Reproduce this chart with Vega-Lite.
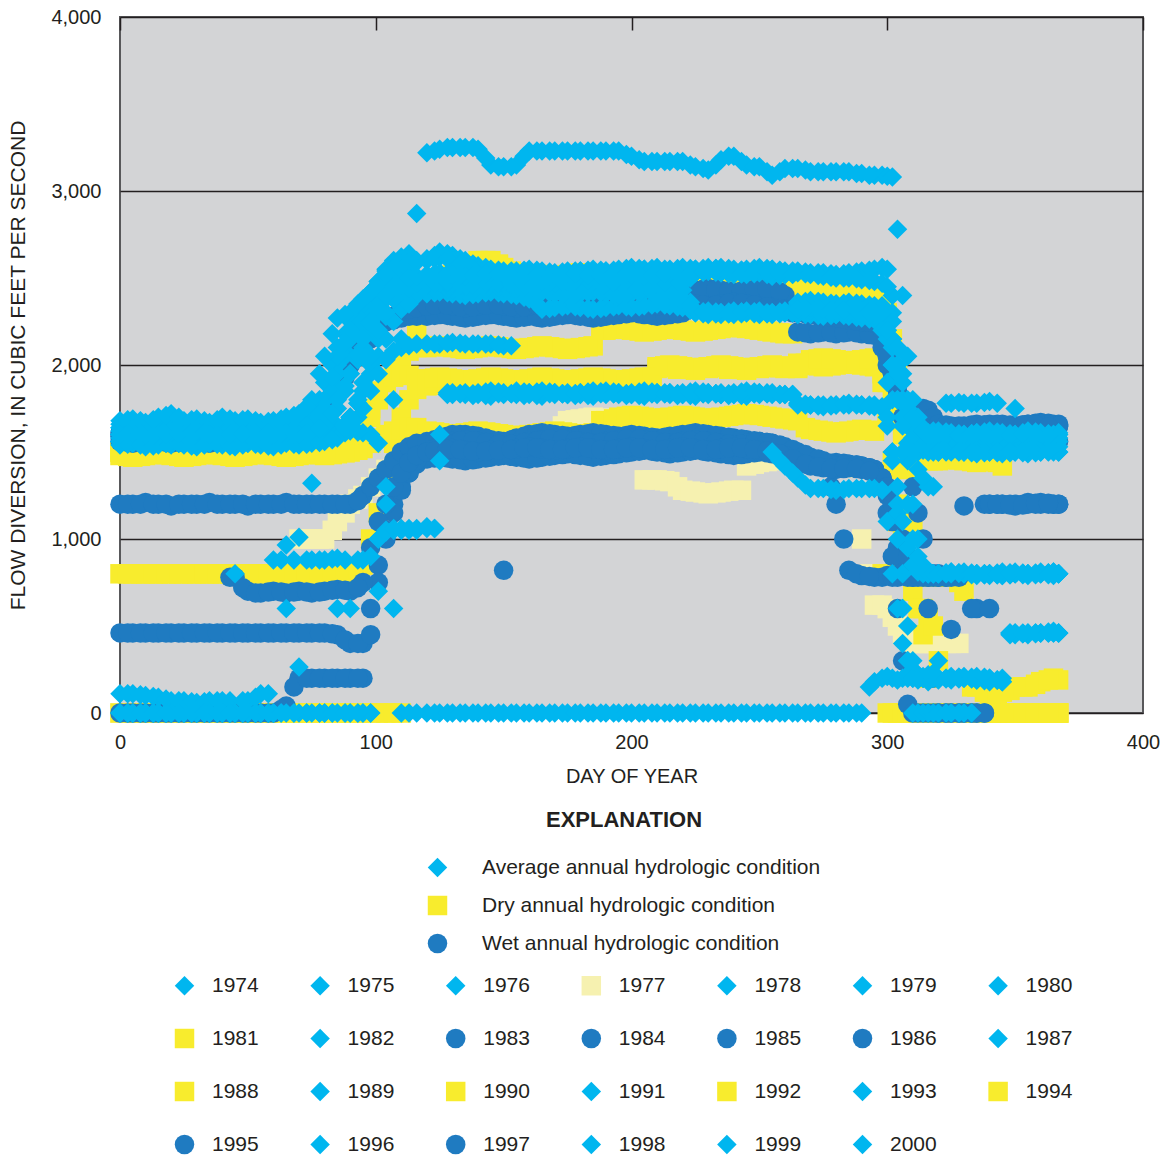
{
  "$schema": "https://vega.github.io/schema/vega-lite/v6.json",
  "width": 1023,
  "height": 696,
  "autosize": "none",
  "padding": {"left": 120, "top": 17, "right": 26, "bottom": 445},
  "background": "#ffffff",
  "config": {
    "font": "Liberation Sans",
    "view": {"fill": "#d3d4d6", "stroke": "#58585a", "strokeWidth": 2},
    "axis": {"labelColor": "#231f20", "titleColor": "#231f20", "labelFontSize": 20, "titleFontSize": 20, "titleFontWeight": "normal"},
    "legend": {"labelColor": "#231f20", "titleColor": "#231f20"}
  },
  "layer": [
    {
      "data": {
        "values": "year,c,0,5,10,15,20,25,30,35,40,45,50,55,60,65,70,75,80,85,90,95,98,101,104,107,110,113,116,120,125,130,135,140,145,150,155,160,165,170,175,180,185,190,195,200,205,210,215,220,225,230,235,240,245,250,255,260,265,270,275,280,285,290,295,298,300,302,304,306,308,310,312,314,316,318,320,325,330,335,340,345,350,355,360,365,367,3,8,13,18,23,28,33,38,43,48,53,58,63,68,73,78,83,88,93,123,128,133,138,143,148,153,158,163,168,173,178,183,188,193,198,203,208,213,218,223,228,233,238,243,248,253,258,263,268,273,278,283,288,293,323,328,333,338,343,348,353,358,363\n1974,A,1640,1650,1630,1660,1640,1650,1630,1640,1650,1640,1630,1650,1640,1660,1650,1680,1800,2000,2150,2300,2400,2480,2550,2600,2620,2640,2870,3220,3240,3250,3250,3240,3150,3140,3150,3230,3230,3230,3230,3230,3230,3230,3230,3200,3170,3170,3170,3170,3140,3120,3180,3200,3150,3140,3090,3130,3130,3110,3110,3110,3110,3100,3090,3090,3085,3080,2780,2400,2050,1800,1700,1640,1600,1590,1580,1590,1570,1580,1590,1570,1580,1580,1570,1580,1580,1645,1640,1650,1650,1645,1640,1635,1645,1645,1635,1640,1645,1650,1655,1665,1740,1900,2080,2240,3230,3250,3250,3250,3190,3140,3140,3200,3230,3230,3230,3230,3230,3230,3230,3210,3180,3170,3170,3170,3150,3130,3150,3200,3170,3140,3110,3110,3130,3120,3110,3110,3110,3100,3090,1580,1580,1580,1580,1580,1580,1580,1580,1580\n1975,A,1660,1670,1650,1680,1700,1660,1670,1650,1680,1660,1670,1650,1660,1670,1680,1700,1900,2100,2250,2350,2420,2480,2540,2560,2580,2590,2600,2610,2650,2630,2600,2570,2550,2540,2540,2550,2540,2530,2540,2540,2530,2540,2550,2560,2550,2540,2550,2560,2550,2540,2530,2540,2540,2540,2520,2530,2540,2530,2530,2520,2530,2540,2550,2560,2550,2400,2100,1900,1750,1650,1600,1580,1570,1560,1560,1570,1560,1580,1560,1570,1560,1560,1580,1570,1560,1665,1660,1665,1690,1680,1665,1660,1665,1670,1665,1660,1655,1665,1675,1690,1800,2000,2180,2300,2630,2640,2610,2580,2560,2545,2540,2545,2545,2535,2535,2540,2535,2535,2545,2555,2555,2545,2545,2555,2555,2545,2535,2535,2540,2540,2530,2525,2535,2535,2530,2525,2525,2535,2545,1565,1565,1570,1570,1565,1565,1560,1570,1575\n1976,A,1600,1610,1590,1620,1600,1610,1590,1600,1620,1600,1610,1590,1600,1610,1600,1610,1620,1750,1950,2100,2200,2300,2380,2430,2460,2480,2500,2500,2520,2510,2490,2480,2470,2480,2490,2480,2470,2480,2490,2480,2470,2480,2490,2500,2510,2490,2480,2500,2540,2550,2540,2530,2540,2550,2540,2530,2350,2350,2340,2350,2340,2330,2320,2330,2300,2150,1950,1700,1450,1200,1000,850,800,800,800,800,810,800,800,790,800,800,810,800,800,1605,1600,1605,1610,1605,1600,1595,1610,1610,1605,1600,1595,1605,1605,1605,1615,1680,1850,2030,2510,2515,2500,2485,2475,2475,2485,2485,2475,2475,2485,2485,2475,2475,2485,2495,2505,2500,2485,2490,2520,2545,2545,2535,2535,2545,2545,2535,2530,2350,2345,2345,2345,2335,2325,800,805,805,800,795,795,800,805,805\n1977,D,0,0,0,0,0,0,0,0,0,0,0,0,0,0,1000,1000,1000,1100,1200,1250,1300,1350,1400,1420,1450,1460,1470,1480,1490,1500,1500,1510,1500,1520,1530,1540,1560,1600,1680,1690,1700,1690,1680,1690,1340,1340,1330,1280,1270,1260,1270,1280,1420,1440,1450,1460,1450,1440,1430,1420,1410,1000,620,620,600,550,500,450,420,400,400,400,400,400,400,400,0,0,0,0,0,0,0,0,0,0,0,0,0,0,0,0,0,0,0,0,0,0,0,1000,1000,1050,1150,1230,1485,1495,1500,1505,1505,1510,1525,1535,1550,1580,1650,1685,1695,1695,1685,1685,1690,1340,1335,1300,1275,1265,1265,1275,1280,1430,1445,1455,1455,1445,1435,1425,1415,1410,800,400,400,0,0,0,0,0,0,0\n1978,A,1620,1630,1610,1640,1620,1600,1630,1620,1610,1630,1620,1640,1630,1620,1640,1650,1750,1950,2150,2250,2300,2350,2400,2420,2440,2450,2460,2470,2460,2450,2440,2440,2450,2460,2450,2440,2450,2460,2450,2440,2450,2460,2460,2450,2440,2450,2460,2470,2530,2540,2550,2540,2530,2540,2550,2530,2340,2350,2340,2330,2340,2330,2320,2320,2250,2100,1950,1800,1650,1500,1400,1350,1300,1300,1500,1780,1780,1780,1790,1600,1750,1600,1600,1600,1600,1625,1620,1625,1630,1610,1615,1625,1615,1620,1625,1630,1635,1625,1630,1645,1700,1850,2050,2200,2465,2455,2445,2440,2445,2455,2455,2445,2445,2455,2455,2445,2445,2455,2460,2455,2445,2445,2455,2465,2500,2535,2545,2545,2535,2535,2545,2540,2530,2345,2345,2335,2335,2335,2325,1780,1785,1780,1785,1780,1600,1600,1600,1600\n1979,A,1560,1570,1550,1560,1580,1560,1550,1570,1560,1550,1570,1560,1550,1570,1560,1560,1580,1600,1700,1850,1950,2050,2150,2250,2320,2370,2400,2410,2420,2410,2400,2410,2420,2410,2400,2380,2320,2330,2340,2330,2320,2330,2340,2330,2340,2350,2340,2330,2300,2290,2300,2310,2300,2290,2300,2310,2290,2290,2280,2290,2280,2270,2260,2200,1900,1500,1000,600,300,200,210,200,200,210,200,200,210,190,200,180,460,460,460,460,460,1565,1560,1555,1570,1570,1555,1560,1565,1555,1560,1565,1555,1560,1565,1560,1570,1590,1650,1780,2415,2415,2405,2405,2415,2415,2405,2390,2350,2325,2335,2335,2325,2325,2335,2335,2335,2345,2345,2335,2315,2295,2295,2305,2305,2295,2295,2305,2300,2290,2285,2285,2285,2275,2265,200,205,200,195,190,460,460,460,460\n1980,A,1580,1590,1570,1580,1600,1580,1570,1590,1580,1570,1590,1580,1570,1590,1580,1590,1600,1620,1700,1850,2000,2150,2280,2380,2440,2470,2480,2490,2500,2490,2480,2490,2500,2490,2480,2470,2480,2490,2500,2490,2480,2490,2500,2510,2500,2490,2500,2510,2540,2550,2560,2550,2540,2550,2540,2530,2330,2340,2330,2320,2330,2320,2310,2300,2250,2150,2000,1800,1650,1580,1550,1540,1530,1530,1530,1520,1540,1530,1520,1530,1540,1530,1520,1530,1530,1585,1580,1575,1590,1590,1575,1580,1585,1575,1580,1585,1575,1580,1585,1585,1595,1610,1660,1780,2495,2495,2485,2485,2495,2495,2485,2475,2475,2485,2495,2495,2485,2485,2495,2505,2505,2495,2495,2505,2525,2545,2555,2555,2545,2545,2545,2535,2530,2335,2335,2325,2325,2325,2315,1525,1530,1535,1525,1525,1535,1535,1525,1525\n1981,D,800,800,800,800,800,800,800,800,800,800,800,800,800,800,800,800,800,800,800,850,1000,1150,1350,1550,1700,1800,1860,1880,1890,1880,1870,1880,1890,1880,1870,1880,1890,1880,1870,1880,1890,1880,1870,1880,1890,1980,1990,1980,1970,1980,1990,1980,1970,1980,1990,1980,1990,2010,2000,2010,2020,2010,2000,1950,1700,1400,1100,900,800,780,780,790,780,780,780,780,700,150,100,120,150,150,180,200,190,800,800,800,800,800,800,800,800,800,800,800,800,800,800,800,800,800,800,830,1885,1885,1875,1875,1885,1885,1875,1875,1885,1885,1875,1875,1885,1885,1875,1875,1885,1890,1985,1975,1975,1985,1985,1975,1975,1985,1985,1985,1985,2000,2005,2015,2015,2005,2000,780,750,150,120,110,130,150,165,190\n1982,A,1560,1550,1570,1560,1540,1560,1570,1550,1560,1570,1550,1560,1570,1560,1550,1560,1570,1600,1650,1750,1850,1950,2030,2080,2100,2110,2120,2120,2120,2130,2120,2120,2120,2110,1850,1840,1840,1840,1830,1840,1840,1850,1840,1830,1830,1840,1840,1830,1830,1840,1830,1830,1830,1840,1830,1830,1780,1770,1770,1770,1770,1770,1770,1750,1650,1450,1150,800,500,300,220,200,180,200,190,210,200,190,180,200,450,460,460,470,460,1555,1560,1565,1550,1550,1565,1560,1555,1565,1560,1555,1565,1565,1555,1555,1565,1585,1625,1700,2120,2125,2125,2120,2120,2115,2110,1845,1840,1840,1835,1835,1840,1845,1845,1835,1830,1835,1840,1835,1830,1835,1835,1830,1830,1835,1835,1830,1830,1775,1770,1770,1770,1770,1770,200,205,195,185,190,450,455,460,465\n1983,W,1200,1200,1210,1200,1190,1200,1200,1210,1200,1200,1190,1200,1200,1210,1200,1200,1200,1200,1200,1250,1300,1350,1400,1450,1500,1530,1550,1560,1580,1600,1600,1590,1570,1560,1580,1600,1610,1600,1590,1600,1610,1600,1590,1600,1590,1580,1590,1600,1610,1600,1590,1580,1570,1560,1550,1500,1450,1440,1430,1440,1430,1420,1400,1350,1250,1100,950,820,790,780,780,790,780,780,780,780,1190,600,1200,1200,1200,1210,1200,1200,1200,1200,1200,1200,1200,1200,1200,1200,1200,1200,1200,1200,1200,1200,1200,1200,1200,1200,1200,1220,1570,1590,1600,1595,1580,1565,1570,1590,1605,1605,1595,1595,1605,1605,1595,1595,1595,1585,1585,1595,1605,1605,1595,1585,1575,1565,1555,1520,1470,1445,1435,1435,1435,1425,1410,780,780,600,1200,1200,1200,1200,1200,1200\n1984,W,460,460,460,460,460,460,460,460,460,460,460,460,460,460,460,460,460,450,400,400,600,850,1050,1200,1300,1380,1430,1460,1470,1460,1450,1460,1470,1480,1470,1460,1470,1480,1490,1480,1470,1480,1490,1500,1510,1500,1490,1500,1510,1500,1490,1480,1490,1500,1490,1480,1460,1440,1430,1420,1430,1420,1400,1300,1150,900,600,300,50,0,0,0,0,0,0,0,0,0,600,1660,1650,1660,1670,1660,1660,460,460,460,460,460,460,460,460,460,460,460,460,460,460,460,460,455,420,400,1465,1465,1455,1455,1465,1475,1475,1465,1465,1475,1485,1485,1475,1475,1485,1495,1505,1505,1495,1495,1505,1505,1495,1485,1485,1495,1495,1485,1470,1450,1435,1425,1425,1425,1410,0,0,0,0,1660,1655,1655,1665,1665\n1985,W,1590,1580,1600,1590,1580,1600,1590,1580,1600,1590,1580,1600,1590,1600,1620,1650,1750,1900,2050,2150,2200,2230,2250,2260,2270,2280,2280,2280,2290,2280,2270,2280,2290,2280,2270,2280,2270,2280,2290,2280,2270,2280,2290,2300,2290,2280,2290,2300,2430,2440,2430,2420,2430,2440,2430,2400,2190,2180,2190,2180,2190,2180,2170,2100,2000,1950,1850,1800,1760,1750,1750,1750,1740,1700,1660,1650,1640,1650,1660,1650,1640,1650,1660,1650,1650,1585,1590,1595,1585,1590,1595,1585,1590,1595,1585,1590,1595,1595,1610,1635,1700,1830,1980,2110,2285,2285,2275,2275,2285,2285,2275,2275,2275,2275,2285,2285,2275,2275,2285,2295,2295,2285,2285,2295,2360,2435,2435,2425,2425,2435,2435,2420,2300,2185,2185,2185,2185,2185,2175,1655,1645,1645,1655,1655,1645,1645,1655,1655\n1986,W,0,0,0,0,0,0,0,0,0,0,0,0,0,40,200,200,200,200,200,200,450,750,1000,1150,1280,1380,1450,1500,1540,1560,1570,1560,1550,1540,1550,1560,1570,1580,1570,1560,1550,1560,1570,1580,1570,1560,1550,1560,1570,1560,1550,1540,1550,1560,1550,1530,1500,1470,1450,1200,820,790,780,780,790,780,780,790,780,780,790,780,780,790,800,1560,1570,1560,1550,1560,1570,1560,1550,1560,1560,0,0,0,0,0,0,0,0,0,0,0,0,20,150,200,200,200,200,200,1520,1550,1565,1565,1555,1545,1545,1555,1565,1575,1575,1565,1555,1555,1565,1575,1575,1565,1555,1555,1565,1565,1555,1545,1545,1555,1555,1540,1515,1485,1460,1300,1000,800,785,1560,1565,1565,1555,1555,1565,1565,1555,1555\n1987,A,0,0,0,0,0,0,0,0,0,0,0,0,0,0,0,0,0,0,0,0,0,700,1300,1800,2150,2350,2420,2430,2440,2430,2420,2430,2440,2450,2440,2430,2440,2450,2440,2450,2460,2450,2440,2450,2460,2450,2440,2430,2300,2310,2300,2290,2300,2310,2300,2300,2300,2310,2300,2310,2300,2290,2300,2280,2150,1800,1200,600,200,0,0,0,0,0,0,0,0,800,800,790,800,800,800,810,800,0,0,0,0,0,0,0,0,0,0,0,0,0,0,0,0,0,0,0,2435,2435,2425,2425,2435,2445,2445,2435,2435,2445,2445,2445,2455,2455,2445,2445,2455,2455,2445,2435,2360,2305,2305,2295,2295,2305,2300,2300,2300,2305,2305,2305,2305,2295,2295,0,0,0,800,800,795,800,800,805\n1988,D,1500,1490,1500,1510,1500,1490,1500,1510,1500,1490,1500,1510,1500,1490,1500,1510,1500,1510,1520,1600,1700,1800,1900,2000,2050,2080,2100,2100,2110,2100,2090,2100,2110,2100,2090,2100,2110,2100,2090,2100,2110,2200,2210,2200,2190,2200,2210,2200,2190,2200,2210,2220,2210,2200,2190,2180,2010,2000,1990,2000,2010,2000,1990,1900,1700,1450,1200,1000,850,700,600,450,200,0,0,0,0,0,0,0,0,0,0,0,0,1495,1495,1505,1505,1495,1495,1505,1505,1495,1495,1505,1505,1495,1495,1505,1505,1505,1515,1560,2105,2105,2095,2095,2105,2105,2095,2095,2105,2105,2095,2095,2105,2200,2205,2205,2195,2195,2205,2205,2195,2195,2205,2215,2215,2205,2195,2185,2180,2005,1995,1995,2005,2005,1995,0,0,0,0,0,0,0,0,0\n1989,A,110,110,100,90,70,70,60,70,70,800,70,110,880,965,1010,880,880,890,600,880,900,1000,1050,1050,1060,1050,1060,1060,1450,1830,1840,1830,1820,1830,1840,1830,1820,1830,1840,1830,1820,1830,1840,1830,1820,1830,1840,1830,1820,1830,1840,1830,1820,1830,1840,1830,1770,1770,1760,1770,1780,1770,1760,1760,1700,1500,1300,1100,950,850,810,800,800,800,800,810,800,790,800,810,800,790,800,810,800,110,105,95,80,70,65,65,70,70,70,90,110,880,880,880,880,885,880,880,1060,1830,1835,1825,1825,1835,1835,1825,1825,1835,1835,1825,1825,1835,1835,1825,1825,1835,1835,1825,1825,1835,1835,1825,1825,1835,1835,1830,1830,1770,1765,1765,1775,1775,1765,805,805,795,795,805,805,795,795,805\n1990,D,0,0,0,0,0,0,0,0,0,0,0,0,0,0,0,0,0,0,0,0,0,0,0,0,0,1500,2200,2450,2500,2520,2550,2600,2600,2560,2530,2520,2520,2510,2520,2530,2520,2510,2520,2530,2520,2510,2520,2530,2500,2490,2500,2510,2500,2490,2480,2470,2430,2420,2420,2410,2420,2410,2400,2400,2300,2150,1950,1700,1400,1100,800,600,550,500,300,0,0,0,0,0,0,0,0,0,0,0,0,0,0,0,0,0,0,0,0,0,0,0,0,0,0,0,0,0,2480,2510,2535,2580,2600,2580,2540,2525,2520,2515,2515,2525,2525,2515,2515,2525,2525,2515,2515,2525,2515,2495,2495,2505,2505,2495,2485,2475,2450,2425,2420,2415,2415,2415,2405,0,0,0,0,0,0,0,0,0\n1991,A,0,0,0,0,0,0,0,0,0,0,0,0,0,600,265,1320,0,600,0,0,0,1000,1040,1060,1050,1060,1050,1070,1600,1840,1830,1840,1850,1840,1830,1840,1850,1840,1830,1840,1850,1840,1830,1840,1850,1840,1830,1840,1850,1840,1830,1840,1850,1840,1500,1420,1350,1290,1290,1280,1290,1290,1290,1280,1100,800,600,400,300,250,220,210,220,230,300,1500,1500,1510,1500,1490,1500,1510,1500,1500,1500,0,0,0,0,0,0,0,0,0,0,0,0,0,0,0,0,0,0,0,1060,1840,1835,1835,1845,1845,1835,1835,1845,1845,1835,1835,1845,1845,1835,1835,1845,1845,1835,1835,1845,1845,1835,1835,1845,1845,1840,1450,1380,1310,1290,1285,1285,1290,1290,1500,1500,1505,1505,1495,1495,1505,1505,1500\n1992,D,1480,1470,1480,1490,1480,1470,1480,1490,1480,1470,1480,1490,1480,1470,1480,1490,1480,1490,1500,1520,1550,1580,1600,1620,1630,1640,1640,1620,1610,1600,1610,1620,1610,1600,1590,1600,1610,1620,1610,1600,1610,1680,1700,1710,1700,1690,1700,1710,1700,1690,1700,1710,1720,1710,1700,1690,1680,1630,1620,1610,1620,1630,1620,800,0,0,0,0,0,0,0,0,0,0,0,0,0,0,0,0,0,0,0,0,0,1475,1475,1485,1485,1475,1475,1485,1485,1475,1475,1485,1485,1475,1475,1485,1485,1485,1495,1510,1615,1605,1605,1615,1615,1605,1595,1595,1605,1615,1615,1605,1605,1680,1690,1705,1705,1695,1695,1705,1705,1695,1695,1705,1715,1715,1705,1695,1685,1640,1625,1615,1615,1625,1625,0,0,0,0,0,0,0,0,0\n1993,A,1600,1610,1620,1600,1590,1610,1620,1600,1610,1600,1590,1610,1600,1620,1610,1600,1610,1600,1620,1610,1600,1550,1200,600,0,0,0,0,0,0,0,0,0,0,0,0,0,0,0,0,0,0,0,0,0,0,0,0,0,0,0,0,0,0,0,0,0,0,0,0,0,0,180,200,210,200,190,200,210,200,190,200,210,200,200,190,200,210,200,180,460,450,460,460,460,1605,1615,1610,1595,1600,1615,1610,1605,1605,1595,1600,1605,1610,1615,1605,1605,1605,1610,1615,0,0,0,0,0,0,0,0,0,0,0,0,0,0,0,0,0,0,0,0,0,0,0,0,0,0,0,0,0,0,0,0,0,0,150,195,195,205,205,190,460,455,455,460\n1994,D,1500,1510,1500,1490,1500,1510,1500,1490,1500,1510,1500,1490,1500,1510,1500,1490,1500,1500,1550,1650,1750,1850,1900,1930,1950,1940,1920,1920,1930,1920,1910,1920,1930,1920,1910,1920,1930,1920,1910,1920,1930,1920,1910,1920,1930,1990,2000,1990,1980,1990,2000,1990,1980,1990,2000,1990,1980,2030,2040,2030,2020,2030,2040,2000,1900,1800,1700,1600,1550,1500,1480,1460,1450,1450,1450,1460,1450,1440,1450,1420,0,0,0,0,0,1505,1505,1495,1495,1505,1505,1495,1495,1505,1505,1495,1495,1505,1505,1495,1495,1500,1520,1600,1925,1925,1915,1915,1925,1925,1915,1915,1925,1925,1915,1915,1925,1925,1915,1915,1925,1930,1995,1995,1985,1985,1995,1995,1985,1985,1995,1995,1985,2010,2035,2035,2025,2025,2035,1455,1455,1445,1445,1440,0,0,0,0\n1995,W,1560,1550,1570,1560,1550,1560,1570,1550,1560,780,700,690,700,690,700,690,700,710,700,750,950,1100,1200,1300,1380,1440,1480,1500,1510,1520,1510,1500,1510,820,1520,1530,1520,1510,1520,1530,1520,1510,1520,1530,1520,1510,1520,1530,1520,1510,1520,1530,1520,1510,1500,1480,1440,1420,1410,1400,1410,1400,1380,1350,1300,1200,1100,1000,900,820,800,790,800,800,780,480,1650,1660,1650,1640,1650,1660,1650,1640,1650,1555,1560,1565,1555,1555,1565,1560,1555,780,720,690,695,695,695,695,695,705,705,720,1505,1515,1515,1505,1505,1510,1515,1525,1525,1515,1515,1525,1525,1515,1515,1525,1525,1515,1515,1525,1525,1515,1515,1525,1525,1515,1505,1490,1460,1430,1415,1405,1405,1405,1390,780,1650,1655,1655,1645,1645,1655,1655,1645\n1996,A,1640,1630,1650,1640,1660,1640,1630,1650,1640,1630,1650,1640,1660,1650,1640,1660,1800,2050,2200,2350,2420,2480,2520,2540,2550,2570,2590,2600,2620,2600,2560,2540,2520,2520,2530,2540,2530,2520,2530,2540,2550,2540,2530,2540,2550,2560,2540,2530,2540,2550,2540,2530,2520,2530,2510,2520,2530,2520,2510,2500,2500,2490,2480,2470,2450,2300,2000,1800,1700,1650,1630,1620,1610,1620,1620,1610,1600,1610,1620,1610,1600,1620,1610,1600,1610,1635,1640,1645,1650,1650,1635,1640,1645,1635,1640,1645,1650,1655,1645,1650,1720,1930,2130,2280,2610,2610,2580,2550,2530,2520,2525,2535,2535,2525,2525,2535,2545,2545,2535,2535,2545,2555,2550,2535,2535,2545,2545,2535,2525,2525,2520,2515,2525,2525,2515,2505,2500,2495,2485,1615,1605,1605,1615,1615,1605,1610,1615,1605\n1997,W,1610,1600,1620,1610,1600,1610,1620,1600,1610,1600,1620,1610,1600,1620,1630,1640,1700,1850,2000,2100,2150,2200,2250,2280,2300,2320,2330,2340,2350,2340,2330,2340,2350,2340,2330,2340,2350,2340,2350,2360,2350,2340,2350,2360,2350,2340,2350,2360,2350,2340,2350,2360,2350,2340,2330,2320,2300,2290,2280,2270,2260,2250,2240,2200,2050,1950,1850,1700,1500,1300,1150,1000,600,200,0,0,0,0,1200,1200,1190,1200,1210,1200,1200,1605,1610,1615,1605,1605,1615,1610,1605,1605,1610,1615,1605,1610,1625,1635,1670,1780,1930,2060,2345,2345,2335,2335,2345,2345,2335,2335,2345,2345,2345,2355,2355,2345,2345,2355,2355,2345,2345,2355,2355,2345,2345,2355,2355,2345,2335,2325,2310,2295,2285,2275,2265,2255,2245,0,0,0,0,1200,1195,1195,1205,1205\n1998,A,1540,1550,1530,1540,1560,1540,1530,1550,1540,1530,1550,1540,1530,1550,1540,1550,1560,1580,1700,1900,2050,2200,2300,2380,2420,2440,2450,2460,2470,2460,2450,2460,2470,2460,2450,2440,2420,2410,2400,2410,2420,2410,2400,2410,2420,2410,2400,2380,2310,2300,2290,2300,2310,2300,2290,2300,2300,2310,2300,2290,2300,2290,2280,2280,2200,2000,1800,1500,1200,1000,900,820,800,800,800,810,800,800,790,800,810,800,800,790,800,1545,1540,1535,1550,1550,1535,1540,1545,1535,1540,1545,1535,1540,1545,1545,1555,1570,1640,1800,2465,2465,2455,2455,2465,2465,2455,2445,2430,2415,2405,2405,2415,2415,2405,2405,2415,2415,2405,2390,2340,2305,2295,2295,2305,2305,2295,2295,2300,2305,2305,2295,2295,2295,2285,805,805,800,795,795,805,805,800,795\n1999,A,1680,1690,1670,1700,1720,1680,1690,1670,1700,1680,1690,1670,1680,1700,1720,1800,2050,2270,2300,2380,2420,2440,2450,2460,2460,2470,2470,2470,2480,2470,2460,2470,2480,2470,2460,2470,2480,2470,2480,2490,2480,2470,2480,2490,2480,2470,2480,2490,2550,2560,2550,2540,2550,2560,2550,2540,2360,2370,2360,2350,2360,2350,2340,2340,2300,2250,2100,1950,1800,1700,1650,1620,1600,1600,1600,1590,1600,1610,1600,1590,1600,1610,1600,1590,1600,1685,1680,1685,1710,1700,1685,1680,1685,1690,1685,1680,1675,1690,1710,1760,1950,2180,2290,2350,2475,2475,2465,2465,2475,2475,2465,2465,2475,2475,2475,2485,2485,2475,2475,2485,2485,2475,2475,2485,2520,2555,2555,2545,2545,2555,2555,2545,2540,2365,2365,2355,2355,2355,2345,1595,1595,1605,1605,1595,1595,1605,1605,1595\n2000,A,1600,1610,1600,1590,1610,1600,1620,1600,1590,1610,1600,1620,1600,1610,1600,1620,1650,1800,1950,2150,2250,2330,2400,2450,2480,2500,2510,2520,2530,2520,2510,2520,2530,2520,2510,2520,2510,2520,2530,2520,2510,2520,2530,2520,2510,2520,2530,2520,2530,2540,2530,2520,2530,2540,2530,2520,2320,2330,2320,2310,2320,2310,2300,2300,2200,2000,1800,1650,1550,1500,1500,1510,1500,1500,1500,1510,1500,1490,1500,1510,1500,1490,1500,1510,1500,1605,1605,1595,1600,1605,1610,1610,1595,1600,1605,1610,1610,1605,1605,1610,1635,1720,1880,2060,2525,2525,2515,2515,2525,2525,2515,2515,2515,2515,2525,2525,2515,2515,2525,2525,2515,2515,2525,2525,2525,2535,2535,2525,2525,2535,2535,2525,2520,2325,2325,2315,2315,2315,2305,1505,1505,1495,1495,1505,1505,1495,1495,1505",
        "format": {"type": "csv", "parse": {"year": "string", "c": "string"}}
      },
      "transform": [
        {"fold": ["0","5","10","15","20","25","30","35","40","45","50","55","60","65","70","75","80","85","90","95","98","101","104","107","110","113","116","120","125","130","135","140","145","150","155","160","165","170","175","180","185","190","195","200","205","210","215","220","225","230","235","240","245","250","255","260","265","270","275","280","285","290","295","298","300","302","304","306","308","310","312","314","316","318","320","325","330","335","340","345","350","355","360","365","367","3","8","13","18","23","28","33","38","43","48","53","58","63","68","73","78","83","88","93","123","128","133","138","143","148","153","158","163","168","173","178","183","188","193","198","203","208","213","218","223","228","233","238","243","248","253","258","263","268","273","278","283","288","293","323","328","333","338","343","348","353","358","363"], "as": ["d", "v"]}
      ],
      "encoding": {
        "x": {
          "field": "d", "type": "quantitative",
          "scale": {"domain": [0, 400], "nice": false, "zero": false},
          "axis": {"values": [0, 100, 200, 300, 400], "ticks": false, "domain": false, "grid": false, "labelFlush": false, "labelPadding": 19, "title": "DAY OF YEAR", "titlePadding": 14}
        },
        "y": {
          "field": "v", "type": "quantitative",
          "scale": {"domain": [0, 4000], "nice": false},
          "axis": {"values": [0, 1000, 2000, 3000, 4000], "format": ",.0f", "ticks": false, "domain": false, "grid": true, "gridColor": "#231f20", "gridWidth": 1.5, "gridOpacity": 1, "labelPadding": 19, "title": "FLOW DIVERSION, IN CUBIC FEET PER SECOND", "titleFontSize": 21, "titlePadding": 22}
        },
        "color": {
          "field": "year", "type": "nominal",
          "scale": {
            "domain": ["1974","1975","1976","1977","1978","1979","1980","1981","1982","1983","1984","1985","1986","1987","1988","1989","1990","1991","1992","1993","1994","1995","1996","1997","1998","1999","2000"],
            "range": ["#00b6ef","#00b6ef","#00b6ef","#f6f1b0","#00b6ef","#00b6ef","#00b6ef","#f8ec2d","#00b6ef","#1f7bc1","#1f7bc1","#1f7bc1","#1f7bc1","#00b6ef","#f8ec2d","#00b6ef","#f8ec2d","#00b6ef","#f8ec2d","#00b6ef","#f8ec2d","#1f7bc1","#00b6ef","#1f7bc1","#00b6ef","#00b6ef","#00b6ef"]
          },
          "legend": {"orient": "none", "legendX": 54, "legendY": 958, "title": null, "direction": "horizontal", "columns": 7, "symbolSize": 380, "symbolStrokeWidth": 0, "symbolOpacity": 1, "labelFontSize": 21, "labelOffset": 17, "columnPadding": 50.6, "rowPadding": 31, "labelLimit": 0}
        },
        "shape": {
          "field": "year", "type": "nominal",
          "scale": {
            "domain": ["1974","1975","1976","1977","1978","1979","1980","1981","1982","1983","1984","1985","1986","1987","1988","1989","1990","1991","1992","1993","1994","1995","1996","1997","1998","1999","2000"],
            "range": ["diamond","diamond","diamond","square","diamond","diamond","diamond","square","diamond","circle","circle","circle","circle","diamond","square","diamond","square","diamond","square","diamond","square","circle","diamond","circle","diamond","diamond","diamond"]
          },
          "legend": {"orient": "none", "legendX": 54, "legendY": 958, "title": null, "direction": "horizontal", "columns": 7, "symbolSize": 380, "symbolStrokeWidth": 0, "symbolOpacity": 1, "labelFontSize": 21, "labelOffset": 17, "columnPadding": 50.6, "rowPadding": 31, "labelLimit": 0}
        }
      },
      "layer": [
        {"transform": [{"filter": "datum.c == 'D'"}], "mark": {"type": "point", "filled": true, "size": 380, "opacity": 1, "strokeWidth": 0}},
        {"transform": [{"filter": "datum.c == 'W'"}], "mark": {"type": "point", "filled": true, "size": 380, "opacity": 1, "strokeWidth": 0}},
        {"transform": [{"filter": "datum.c == 'A'"}], "mark": {"type": "point", "filled": true, "size": 380, "opacity": 1, "strokeWidth": 0}}
      ]
    },
    {
      "data": {"values": [
        {"k": "Average annual hydrologic condition", "d": 0},
        {"k": "Dry annual hydrologic condition", "d": 0},
        {"k": "Wet annual hydrologic condition", "d": 0}
      ]},
      "transform": [{"filter": "datum.d > 1"}],
      "mark": {"type": "point", "filled": true, "size": 380, "opacity": 1, "strokeWidth": 0},
      "encoding": {
        "x": {
          "field": "d", "type": "quantitative",
          "axis": {"orient": "top", "values": [0, 100, 200, 300, 400], "labels": false, "domain": false, "grid": false, "ticks": true, "tickSize": -13, "tickColor": "#231f20", "tickWidth": 1.5, "title": null}
        },
        "color": {
          "field": "k", "type": "nominal",
          "scale": {"domain": ["Average annual hydrologic condition", "Dry annual hydrologic condition", "Wet annual hydrologic condition"], "range": ["#00b6ef", "#f8ec2d", "#1f7bc1"]},
          "legend": {"orient": "none", "legendX": 307, "legendY": 793, "title": "EXPLANATION", "titleFontSize": 22, "titleFontWeight": "bold", "titleAnchor": "middle", "titlePadding": 25, "direction": "vertical", "symbolSize": 380, "symbolStrokeWidth": 0, "symbolOpacity": 1, "labelFontSize": 21, "labelOffset": 34, "rowPadding": 16, "labelLimit": 0}
        },
        "shape": {
          "field": "k", "type": "nominal",
          "scale": {"domain": ["Average annual hydrologic condition", "Dry annual hydrologic condition", "Wet annual hydrologic condition"], "range": ["diamond", "square", "circle"]},
          "legend": {"orient": "none", "legendX": 307, "legendY": 793, "title": "EXPLANATION", "titleFontSize": 22, "titleFontWeight": "bold", "titleAnchor": "middle", "titlePadding": 25, "direction": "vertical", "symbolSize": 380, "symbolStrokeWidth": 0, "symbolOpacity": 1, "labelFontSize": 21, "labelOffset": 34, "rowPadding": 16, "labelLimit": 0}
        }
      }
    }
  ],
  "resolve": {"scale": {"color": "independent", "shape": "independent"}, "axis": {"x": "independent"}}
}
